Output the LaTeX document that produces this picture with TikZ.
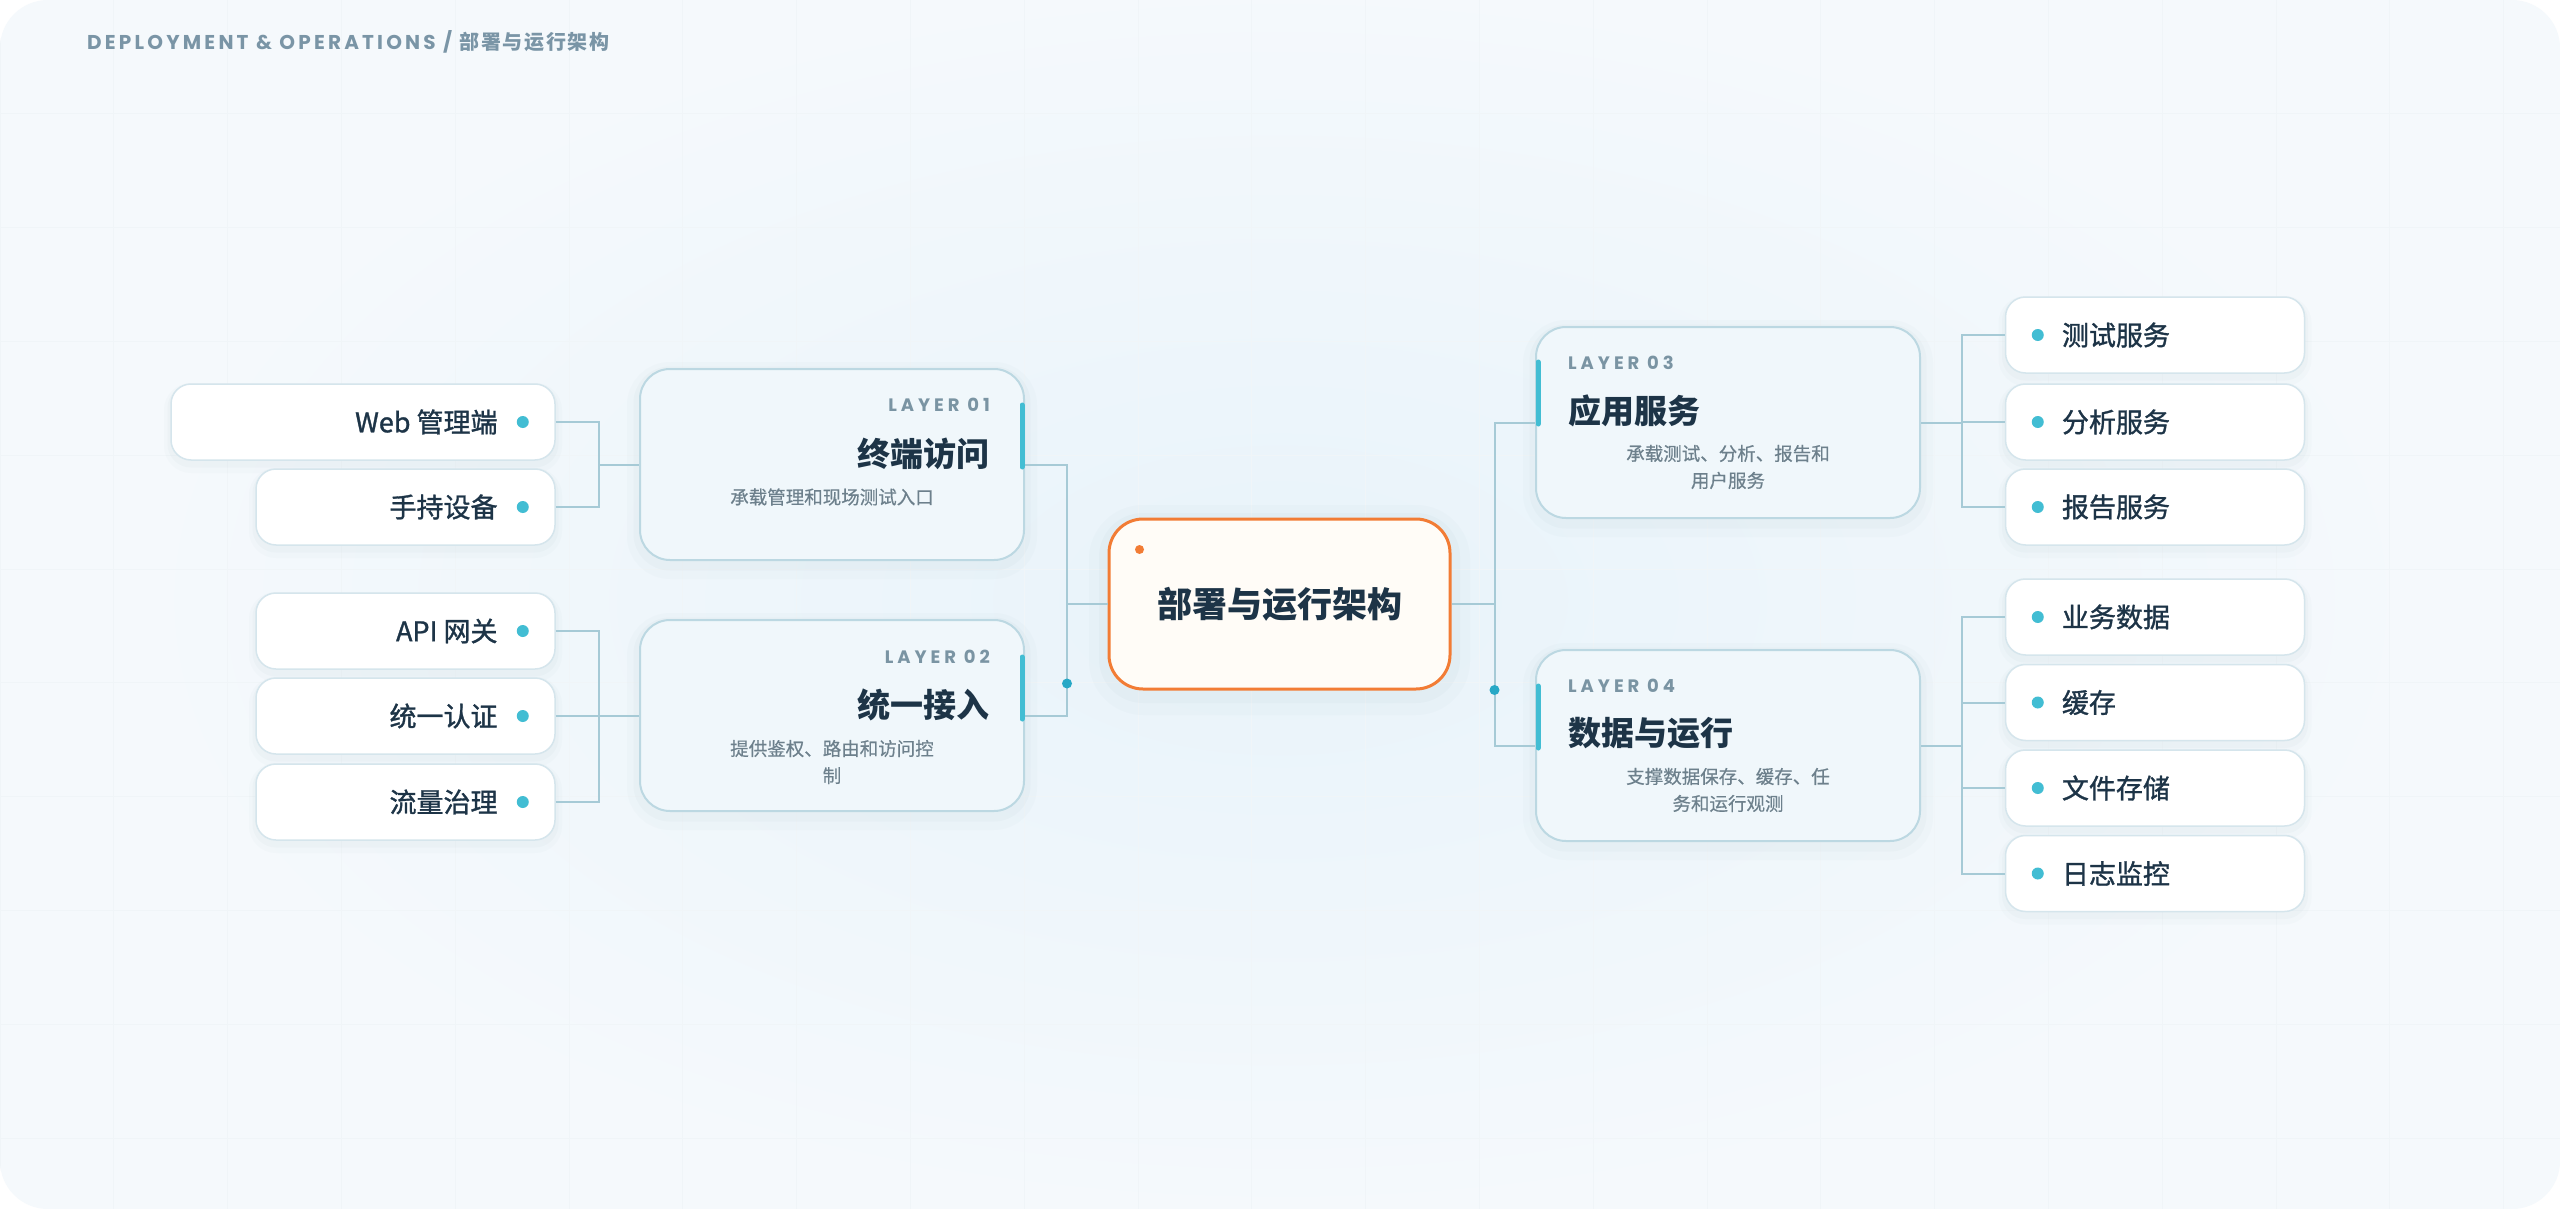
\documentclass[tikz,border=0pt]{standalone}
\usepackage{fontspec}
\setmainfont{Noto Sans CJK SC}
\newfontfamily\capsfont[LetterSpace=22]{Poppins}
\newfontfamily\headfont[LetterSpace=16]{Poppins}
\newfontfamily\headcjk[LetterSpace=8]{Noto Sans CJK SC}
\newfontfamily\medfont[FakeBold=1.2]{Noto Sans CJK SC}
\newfontfamily\descfont[FakeBold=0.5]{Noto Sans CJK SC}
\usetikzlibrary{positioning,calc}

\definecolor{pagebg}{HTML}{F5F9FC}
\definecolor{glowc}{HTML}{E8F3FA}
\definecolor{gridc}{HTML}{F0F5F8}
\definecolor{leafline}{HTML}{D5E5EC}
\definecolor{layerfill}{HTML}{F0F7FB}
\definecolor{layerline}{HTML}{BCD8E2}
\definecolor{linkc}{HTML}{A6CAD6}
\definecolor{tealc}{HTML}{42BDD3}
\definecolor{busdot}{HTML}{27A8C6}
\definecolor{ink}{HTML}{1D3447}
\definecolor{descgray}{HTML}{6D808C}
\definecolor{layergray}{HTML}{7A94A3}
\definecolor{headgray}{HTML}{7A95A6}
\definecolor{orangec}{HTML}{F27C35}
\definecolor{corefill}{HTML}{FFFCF7}
\definecolor{shadowc}{HTML}{5D8297}

\tikzset{
  softshadow/.style={
    preaction={draw=shadowc, draw opacity=0.025, line width=#1, transform canvas={yshift=-6pt}},
    preaction={draw=shadowc, draw opacity=0.03, line width=#1/2, transform canvas={yshift=-4pt}}},
  leaf/.style={draw=leafline, line width=1.5, fill=white, rounded corners=20,
    minimum height=76, inner sep=0, softshadow=14},
  leaftext/.style={font=\medfont\fontsize{27}{30}\selectfont, text=ink, inner sep=0},
  leafdot/.style={fill=tealc},
  layer/.style={draw=layerline, line width=2, fill=layerfill, rounded corners=30,
    minimum width=384, minimum height=191, inner sep=0, softshadow=26},
  layerno/.style={font=\capsfont\bfseries\fontsize{18}{20}\selectfont, text=layergray, inner sep=0},
  layertitle/.style={font=\bfseries\fontsize{33}{38}\selectfont, text=ink, inner sep=0},
  layerdesc/.style={font=\descfont\fontsize{18.5}{27}\selectfont, text=descgray, align=center, inner sep=0},
  accent/.style={draw=tealc, line width=5, line cap=round},
  link/.style={draw=linkc, line width=2},
}

\begin{document}
\begin{tikzpicture}[x=1pt,y=-1pt,
  core/.style={draw=orangec, line width=3, fill=corefill, rounded corners=34,
    minimum width=341, minimum height=170, inner sep=0,
    font=\bfseries\fontsize{35}{40}\selectfont, text=ink, softshadow=40}]
\useasboundingbox (0,0) rectangle (2560,1209);
\fill[white] (0,0) rectangle (2560,1209);

% page
\begin{scope}
\clip[rounded corners=48] (0,0) rectangle (2560,1209);
\fill[pagebg] (0,0) rectangle (2560,1209);
\shade[inner color=glowc, outer color=pagebg] (1280,600) ellipse [x radius=1150, y radius=620];
\foreach \gx in {0,113.8,...,2560}
  \draw[gridc, line width=1] (\gx,0) -- (\gx,1209);
\foreach \gy in {0,113.8,...,1209}
  \draw[gridc, line width=1] (0,\gy) -- (2560,\gy);
\end{scope}

\node[anchor=west, inner sep=0, text=headgray] (head) at (87,42)
  {\headfont\bfseries\fontsize{20}{22}\selectfont DEPLOYMENT \& OPERATIONS / {\headcjk\bfseries 部署与运行架构}};

% layers
\node[layer] (l1) at (832,464.5) {};
\node[layer] (l2) at (832,715.5) {};
\node[layer] (l3) at (1728,422.5) {};
\node[layer] (l4) at (1728,745.5) {};

\node[layerno, anchor=east] (l1-no) at ($(l1.north east)+(-35,37)$) {LAYER 01};
\node[layertitle, anchor=east] (l1-title) at ($(l1.north east)+(-35,86)$) {终端访问};
\node[layerdesc] (l1-desc) at ($(l1.north)+(0,129)$) {承载管理和现场测试入口};
\draw[accent] ($(l1.north east)+(-3,37)$) -- ++(0,62);

\node[layerno, anchor=east] (l2-no) at ($(l2.north east)+(-35,38)$) {LAYER 02};
\node[layertitle, anchor=east] (l2-title) at ($(l2.north east)+(-35,86)$) {统一接入};
\node[layerdesc] (l2-desc) at ($(l2.north)+(0,143)$) {提供鉴权、路由和访问控\\制};
\draw[accent] ($(l2.north east)+(-3,38)$) -- ++(0,62);

\node[layerno, anchor=west] (l3-no) at ($(l3.north west)+(33,37)$) {LAYER 03};
\node[layertitle, anchor=west] (l3-title) at ($(l3.north west)+(33,85)$) {应用服务};
\node[layerdesc] (l3-desc) at ($(l3.north)+(0,141)$) {承载测试、分析、报告和\\用户服务};
\draw[accent] ($(l3.north west)+(3,36)$) -- ++(0,62);

\node[layerno, anchor=west] (l4-no) at ($(l4.north west)+(33,37)$) {LAYER 04};
\node[layertitle, anchor=west] (l4-title) at ($(l4.north west)+(33,84)$) {数据与运行};
\node[layerdesc] (l4-desc) at ($(l4.north)+(0,141)$) {支撑数据保存、缓存、任\\务和运行观测};
\draw[accent] ($(l4.north west)+(3,37)$) -- ++(0,62);

% centre
\node[core] (core) at (1279.5,604) {部署与运行架构};
\fill[orangec] ($(core.north west)+(32,32)$) circle (4.5);

% left leaves
\foreach \name/\x/\w/\y/\txt in {web/363/384/422/Web 管理端, hand/405.5/299/507/手持设备,
    api/405.5/299/631/API 网关, auth/405.5/299/716/统一认证, flow/405.5/299/802/流量治理} {%
  \node[leaf, minimum width=\w] (\name) at (\x,\y) {};
  \node[leaftext, anchor=east] (\name-t) at ([xshift=-58]\name.east) {\txt};
  \fill[leafdot] ([xshift=-33]\name.east) circle (6);
}

% right leaves
\foreach \name/\y/\txt in {test/335/测试服务, ana/422/分析服务, rep/507/报告服务,
    biz/617/业务数据, cache/702.5/缓存, file/788/文件存储, log/873.5/日志监控} {%
  \node[leaf, minimum width=299] (\name) at (2155,\y) {};
  \node[leaftext, anchor=west] (\name-t) at ([xshift=57]\name.west) {\txt};
  \fill[leafdot] ([xshift=33]\name.west) circle (6);
}

% connectors
\foreach \name in {web,hand}
  \draw[link] (\name.east) -- ++(43,0) |- (l1.west);
\foreach \name in {api,auth,flow}
  \draw[link] (\name.east) -- ++(43,0) |- (l2.west);
\foreach \name in {l1,l2}
  \draw[link] (\name.east) -- ++(42,0) |- (core.west);
\foreach \name in {l3,l4}
  \draw[link] (core.east) -- ++(43,0) |- (\name.west);
\foreach \name in {test,ana,rep}
  \draw[link] (l3.east) -- ++(41,0) |- (\name.west);
\foreach \name in {biz,cache,file,log}
  \draw[link] (l4.east) -- ++(41,0) |- (\name.west);

\fill[busdot] ($(l2.east)+(42,-32)$) circle (5);
\fill[busdot] ($(core.east)+(43,86)$) circle (5);
\end{tikzpicture}
\end{document}
